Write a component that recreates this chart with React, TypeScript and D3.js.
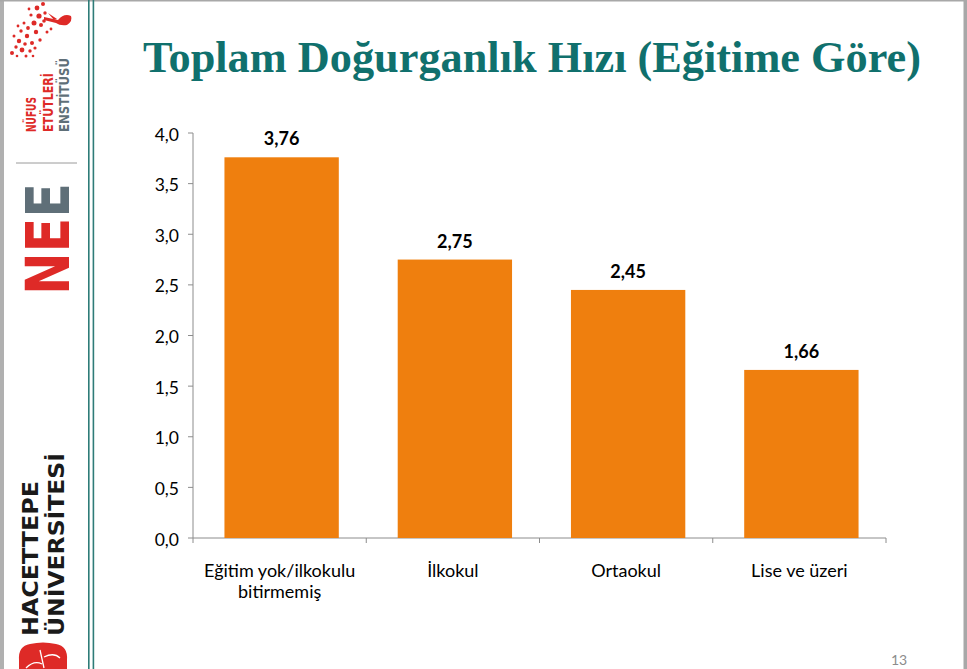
import React from 'react';
import * as d3 from 'd3';

// chart data
const categories = ['Eğitim yok/ilkokulu bitirmemiş', 'İlkokul', 'Ortaokul', 'Lise ve üzeri'];
const categoryLines = [['Eğitim yok/ilkokulu', 'bitirmemiş'], ['İlkokul'], ['Ortaokul'], ['Lise ve üzeri']];
const values = [3.76, 2.75, 2.45, 1.66];
const yTicks = [0, 0.5, 1, 1.5, 2, 2.5, 3, 3.5, 4];

const W = 967;
const H = 669;
const fmt = (v: number, d: number) => v.toFixed(d).replace('.', ',');

// decorative dots for the logo tree
const treeDots: [number, number, number][] = [
  [12, 53, 2], [16, 47, 1.7], [19, 41, 2.2], [14, 36, 1.5], [22, 50, 2.4], [25, 44, 1.8],
  [21, 31, 1.7], [27, 36, 2.2], [28, 28, 1.9], [32, 43, 2], [30, 51, 1.7], [34, 23, 2.5],
  [36, 32, 2.2], [39, 16, 2.6], [41, 25, 2], [37, 8, 2.4], [43, 4, 2], [45, 13, 1.7],
  [24, 23, 1.5], [18, 26, 1.4], [31, 15, 1.6], [47, 32, 1.5], [35, 48, 1.6], [26, 56, 1.5],
  [40, 40, 1.7], [44, 21, 1.8], [29, 9, 1.4], [51, 29, 1.4], [17, 56, 1.3], [33, 56, 1.3]
];

export default function App() {
  const margin = { left: 193, right: 886, top: 133, bottom: 538 };
  const x = d3.scaleBand<string>().domain(categories).range([margin.left, margin.right]).paddingInner(0.34).paddingOuter(0.17);
  const xb = d3.scaleBand<string>().domain(categories).range([margin.left, margin.right]);
  const y = d3.scaleLinear().domain([0, 4]).range([margin.bottom, margin.top]);

  const sans = 'Lato, "Open Sans", sans-serif';
  const axisColor = '#8c8c8c';

  return (
    <svg width={W} height={H} style={{ position: 'absolute', left: 0, top: 0 }}>
      <rect x={0} y={0} width={W} height={H} fill="#ffffff" />
      {/* slide frame */}
      <rect x={0} y={0} width={4} height={H} fill="#b0b0b0" />
      <rect x={0} y={0} width={W} height={1.5} fill="#a8a8a8" />
      <rect x={963.5} y={0} width={3.5} height={H} fill="#a8a8a8" />
      <rect x={88} y={0} width={1.6} height={H} fill="#2e7c78" />
      <rect x={92.6} y={0} width={1.6} height={H} fill="#2e7c78" />

      {/* sidebar logos */}
      <g fill="#de2a27">
        {treeDots.map(([cx, cy, r], i) => (
          <circle key={i} cx={cx} cy={cy} r={r} />
        ))}
        <path d="M44 17 L58 20 Q64 13 71 16 Q73 21 67 25 Q60 26 56 23 L44 20 Z" />
        <path d="M48 13 L57 19 L54 20 Z" />
      </g>
      <g transform="rotate(-90)" fontFamily='"DejaVu Sans Condensed", "DejaVu Sans", sans-serif' fontWeight="bold" fontSize={14}>
        <text x={-132} y={36} fill="#de2a27" textLength={35} lengthAdjust="spacingAndGlyphs">NÜFUS</text>
        <text x={-132} y={52.5} fill="#de2a27" textLength={59} lengthAdjust="spacingAndGlyphs">ETÜTLERİ</text>
        <text x={-132} y={69} fill="#5f6f78" textLength={74} lengthAdjust="spacingAndGlyphs">ENSTİTÜSÜ</text>
      </g>
      <line x1={16} x2={77} y1={163} y2={163} stroke="#9a9a9a" strokeWidth={1} />
      <g transform="rotate(-90)" fontFamily='"DejaVu Sans", sans-serif' fontWeight="bold" fontSize={60}>
        <text x={-295} y={69} textLength={112} lengthAdjust="spacingAndGlyphs">
          <tspan fill="#de2a27">NE</tspan>
          <tspan fill="#5f6f78">E</tspan>
        </text>
      </g>
      <g transform="rotate(-90)" fontFamily='"DejaVu Sans", sans-serif' fontWeight="bold" fill="#1a1a1a">
        <text x={-636} y={38} fontSize={21} textLength={155} lengthAdjust="spacingAndGlyphs">HACETTEPE</text>
        <text x={-636} y={64} fontSize={21} textLength={183} lengthAdjust="spacingAndGlyphs">ÜNİVERSİTESİ</text>
      </g>
      <path d="M19 660 Q18 646 30 644 Q43 641 56 644 Q68 646 67 660 L67 669 L19 669 Z" fill="#de2a27" />
      <path d="M26 668 Q34 660 42 664 M40 650 L44 668 M44 657 Q54 652 60 658" stroke="#ffffff" strokeWidth={1.3} fill="none" />

      {/* title */}
      <text x={143} y={72} fontFamily='"Liberation Serif", "DejaVu Serif", serif' fontWeight="bold" fontSize={45}
        fill="#10706d" textLength={778} lengthAdjust="spacingAndGlyphs">
        Toplam Doğurganlık Hızı (Eğitime Göre)
      </text>

      {/* y axis */}
      <line x1={margin.left} x2={margin.left} y1={y(4)} y2={y(0)} stroke={axisColor} strokeWidth={1} />
      {yTicks.map((t) => (
        <g key={t}>
          <line x1={margin.left - 5} x2={margin.left} y1={y(t)} y2={y(t)} stroke={axisColor} strokeWidth={1} />
          <text x={179} y={y(t) + 7.5} textAnchor="end" fontFamily={sans} fontSize={17.5} fill="#000">
            {fmt(t, 1)}
          </text>
        </g>
      ))}

      {/* x axis */}
      <line x1={margin.left} x2={margin.right} y1={y(0)} y2={y(0)} stroke={axisColor} strokeWidth={1} />
      {[...categories.map((c) => xb(c) as number), margin.right].map((px, i) => (
        <line key={i} x1={px} x2={px} y1={y(0)} y2={y(0) + 5} stroke={axisColor} strokeWidth={1} />
      ))}

      {/* bars */}
      {categories.map((c, i) => (
        <g key={c}>
          <rect x={(x(c) as number) + 2} y={y(values[i])} width={x.bandwidth()} height={y(0) - y(values[i])} fill="#ef7f0e" />
          <text x={(x(c) as number) + 2 + x.bandwidth() / 2} y={y(values[i]) - 12} textAnchor="middle"
            fontFamily={sans} fontWeight="bold" fontSize={18} fill="#000">
            {fmt(values[i], 2)}
          </text>
          {categoryLines[i].map((ln, j) => (
            <text key={j} x={(xb(c) as number) + xb.bandwidth() / 2} y={577 + j * 21} textAnchor="middle"
              fontFamily={sans} fontSize={18} fill="#000">
              {ln}
            </text>
          ))}
        </g>
      ))}

      <text x={899} y={665} textAnchor="middle" fontFamily={sans} fontSize={14} fill="#8c8c8c">13</text>
    </svg>
  );
}
